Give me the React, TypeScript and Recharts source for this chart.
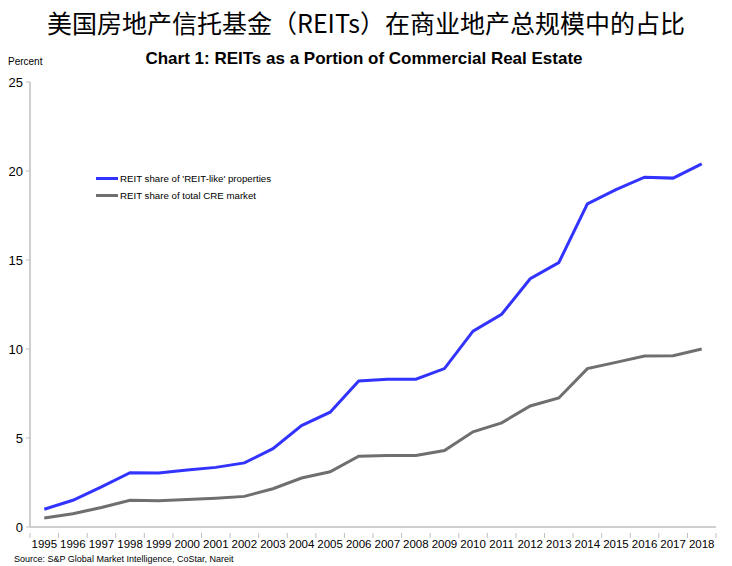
import React from 'react';
import { LineChart, Line, XAxis, YAxis } from 'recharts';

const years = [
  1995, 1996, 1997, 1998, 1999, 2000, 2001, 2002, 2003, 2004, 2005, 2006,
  2007, 2008, 2009, 2010, 2011, 2012, 2013, 2014, 2015, 2016, 2017, 2018,
];
const reitLike = [
  1.0, 1.5, 2.25, 3.05, 3.03, 3.2, 3.35, 3.6, 4.4, 5.7, 6.45, 8.2,
  8.3, 8.3, 8.9, 11.0, 11.95, 13.95, 14.85, 18.15, 18.95, 19.65, 19.6, 20.4,
];
const totalCre = [
  0.5, 0.75, 1.1, 1.5, 1.48, 1.55, 1.62, 1.72, 2.15, 2.75, 3.1, 3.98,
  4.02, 4.02, 4.3, 5.35, 5.85, 6.8, 7.25, 8.9, 9.25, 9.6, 9.62, 10.0,
];
const yTicks = [0, 5, 10, 15, 20, 25];
// year labels plus the category boundaries, where the tick marks sit
const xTicks = [...years, ...years.map((y) => y - 0.5), 2018.5];

const seriesNames = ["REIT share of 'REIT-like' properties", 'REIT share of total CRE market'];
const seriesColors = ['#3333ff', '#6f6f6f'];

const data = years.map((year, i) => ({ year, reitLike: reitLike[i], totalCre: totalCre[i] }));

const FONT = 'Arial, "Liberation Sans", sans-serif';
const AXIS = '#bfbfbf';

const YearTick = (props: any) => {
  const { x, y, payload } = props;
  if (payload.value % 1 !== 0) {
    return <line x1={x} x2={x} y1={y} y2={y + 5} stroke={AXIS} strokeWidth={1} />;
  }
  return (
    <text x={x} y={y + 15} textAnchor="middle" fill="#000" fontSize={11.5} fontFamily={FONT}>
      {payload.value}
    </text>
  );
};

export default function App() {
  return (
    <div style={{ position: 'relative', width: 732, height: 566, margin: '-8px 0 0 -8px', background: '#fff', fontFamily: FONT }}>
      <div style={{ position: 'absolute', top: 0, left: 0 }}>
        <LineChart width={732} height={566} data={data} margin={{ top: 82, right: 16, left: 0, bottom: 0 }}>
          <XAxis
            dataKey="year"
            type="number"
            domain={[1994.5, 2018.5]}
            ticks={xTicks}
            interval={0}
            height={39}
            axisLine={{ stroke: AXIS, strokeWidth: 1.5 }}
            tickLine={false}
            tickMargin={0}
            tick={<YearTick />}
          />
          <YAxis
            domain={[0, 25]}
            ticks={yTicks}
            width={30}
            axisLine={{ stroke: AXIS, strokeWidth: 1.5 }}
            tickLine={{ stroke: AXIS }}
            tickSize={4}
            tickMargin={3}
            tick={{ fill: '#000', fontSize: 13, fontFamily: FONT }}
          />
          <Line dataKey="reitLike" name={seriesNames[0]} stroke={seriesColors[0]} strokeWidth={3} dot={false} isAnimationActive={false} />
          <Line dataKey="totalCre" name={seriesNames[1]} stroke={seriesColors[1]} strokeWidth={3} dot={false} isAnimationActive={false} />
        </LineChart>
      </div>
      <div style={{ position: 'absolute', top: 4, left: 0, width: 732, textAlign: 'center', fontSize: 25, fontFamily: '"Noto Sans CJK SC", sans-serif', color: '#000', lineHeight: '36px' }}>
        美国房地产信托基金（REITs）在商业地产总规模中的占比
      </div>
      <div style={{ position: 'absolute', top: 49, left: 0, width: 728, textAlign: 'center', fontSize: 17, fontWeight: 'bold', color: '#000' }}>
        Chart 1: REITs as a Portion of Commercial Real Estate
      </div>
      <div style={{ position: 'absolute', top: 56, left: 8, fontSize: 10, color: '#000' }}>Percent</div>
      <div style={{ position: 'absolute', top: 170, left: 96, fontSize: 9.7, color: '#000' }}>
        {seriesNames.map((name, i) => (
          <div key={name} style={{ display: 'flex', alignItems: 'center', height: 17 }}>
            <span style={{ display: 'inline-block', width: 22, height: 3, background: seriesColors[i], marginRight: 2 }} />
            {name}
          </div>
        ))}
      </div>
      <div style={{ position: 'absolute', top: 554, left: 14, fontSize: 9, lineHeight: '11px', color: '#000' }}>
        Source: S&amp;P Global Market Intelligence, CoStar, Nareit
      </div>
    </div>
  );
}
